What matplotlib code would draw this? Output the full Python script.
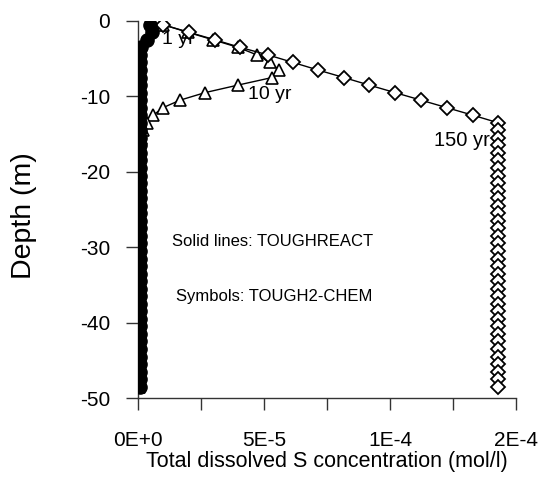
import matplotlib
matplotlib.use("Agg")
import matplotlib.pyplot as plt
from matplotlib.ticker import MultipleLocator

plt.rcParams['font.family'] = ['Liberation Sans', 'DejaVu Sans']
plt.rcParams['axes.unicode_minus'] = False

# depth of grid blocks (m)
depth = [-0.5, -1.5, -2.5, -3.5, -4.5, -5.5, -6.5, -7.5, -8.5, -9.5,
         -10.5, -11.5, -12.5, -13.5, -14.5, -15.5, -16.5, -17.5, -18.5, -19.5,
         -20.5, -21.5, -22.5, -23.5, -24.5, -25.5, -26.5, -27.5, -28.5, -29.5,
         -30.5, -31.5, -32.5, -33.5, -34.5, -35.5, -36.5, -37.5, -38.5, -39.5,
         -40.5, -41.5, -42.5, -43.5, -44.5, -45.5, -46.5, -47.5, -48.5]

# total dissolved S (mol/l)
s_1yr = [4.8e-6, 5.5e-6, 3.5e-6, 1.2e-6, 7e-7, 7e-7, 7e-7, 7e-7, 7e-7, 7e-7,
         7e-7, 7e-7, 7e-7, 7e-7, 7e-7, 7e-7, 7e-7, 7e-7, 7e-7, 7e-7,
         7e-7, 7e-7, 7e-7, 7e-7, 7e-7, 7e-7, 7e-7, 7e-7, 7e-7, 7e-7,
         7e-7, 7e-7, 7e-7, 7e-7, 7e-7, 7e-7, 7e-7, 7e-7, 7e-7, 7e-7,
         7e-7, 7e-7, 7e-7, 7e-7, 7e-7, 7e-7, 7e-7, 7e-7, 7e-7]

s_10yr = [1.0e-5, 1.98e-5, 2.98e-5, 3.97e-5, 4.72e-5, 5.24e-5, 5.6e-5, 5.32e-5, 3.97e-5, 2.66e-5,
          1.67e-5, 9.9e-6, 6.0e-6, 3.6e-6, 2.0e-6, 1.2e-6, 8e-7, 6e-7, 5e-7, 5e-7,
          5e-7, 5e-7, 5e-7, 5e-7, 5e-7, 5e-7, 5e-7, 5e-7, 5e-7, 5e-7,
          5e-7, 5e-7, 5e-7, 5e-7, 5e-7, 5e-7, 5e-7, 5e-7, 5e-7, 5e-7,
          5e-7, 5e-7, 5e-7, 5e-7, 5e-7, 5e-7, 5e-7, 5e-7, 5e-7]

s_150yr = [1.0e-5, 2.02e-5, 3.06e-5, 4.05e-5, 5.16e-5, 6.15e-5, 7.14e-5, 8.17e-5, 9.17e-5, 1.02e-4,
           1.123e-4, 1.226e-4, 1.329e-4, 1.429e-4, 1.43e-4, 1.43e-4, 1.43e-4, 1.43e-4, 1.43e-4, 1.43e-4,
           1.43e-4, 1.43e-4, 1.43e-4, 1.43e-4, 1.43e-4, 1.43e-4, 1.43e-4, 1.43e-4, 1.43e-4, 1.43e-4,
           1.43e-4, 1.43e-4, 1.43e-4, 1.43e-4, 1.43e-4, 1.43e-4, 1.43e-4, 1.43e-4, 1.43e-4, 1.43e-4,
           1.43e-4, 1.43e-4, 1.43e-4, 1.43e-4, 1.43e-4, 1.43e-4, 1.43e-4, 1.43e-4, 1.43e-4]

xticks = [0, 5e-5, 1e-4, 1.5e-4]
xtick_labels = ["0E+0", "5E-5", "1E-4", "2E-4"]
yticks = [0, -10, -20, -30, -40, -50]

fig = plt.figure(figsize=(5.41, 4.79), dpi=100)
ax = fig.add_axes([0.2551, 0.1691, 0.6987, 0.7871])

# TOUGH2-CHEM symbols with TOUGHREACT lines
ax.plot(s_10yr, depth, color='black', lw=1.0, marker='^', ms=8,
        mfc='white', mec='black', mew=1.2, zorder=3)
ax.plot(s_150yr, depth, color='black', lw=1.0, marker='D', ms=7,
        mfc='white', mec='black', mew=1.3, zorder=4)
ax.plot(s_1yr, depth, color='black', lw=1.0, marker='o', ms=9.5,
        mfc='black', mec='black', zorder=5)

ax.text(0.95e-5, -2.5, "1 yr", fontsize=14, va='center', ha='left')
ax.text(4.37e-5, -9.8, "10 yr", fontsize=14, va='center', ha='left')
ax.text(1.397e-4, -15.8, "150 yr", fontsize=14.5, va='center', ha='right')
ax.text(5.32e-5, -29.2, "Solid lines: TOUGHREACT", fontsize=12, ha='center', va='center')
ax.text(5.4e-5, -36.6, "Symbols: TOUGH2-CHEM", fontsize=12, ha='center', va='center')

ax.set_xlim(0, 1.5e-4)
ax.set_ylim(-50, 0)
ax.set_xticks(xticks)
ax.set_xticklabels(xtick_labels)
ax.xaxis.set_minor_locator(MultipleLocator(2.5e-5))
ax.set_yticks(yticks)

for side in ['top', 'right']:
    ax.spines[side].set_visible(False)
for side in ['left', 'bottom']:
    ax.spines[side].set_linewidth(1.0)
    ax.spines[side].set_color('#333333')

ax.tick_params(axis='x', which='both', direction='out', length=8.5, width=1.0,
               labelsize=15, pad=15, color='#333333')
ax.tick_params(axis='y', which='major', direction='out', length=9, width=1.0,
               labelsize=15, pad=11, color='#333333')

ax.set_xlabel("Total dissolved S concentration (mol/l)", fontsize=15.5, labelpad=1)
ax.set_ylabel("Depth (m)", fontsize=20.5)
ax.yaxis.set_label_coords(-0.268, 0.485)

fig.savefig("out.png", dpi=100)
